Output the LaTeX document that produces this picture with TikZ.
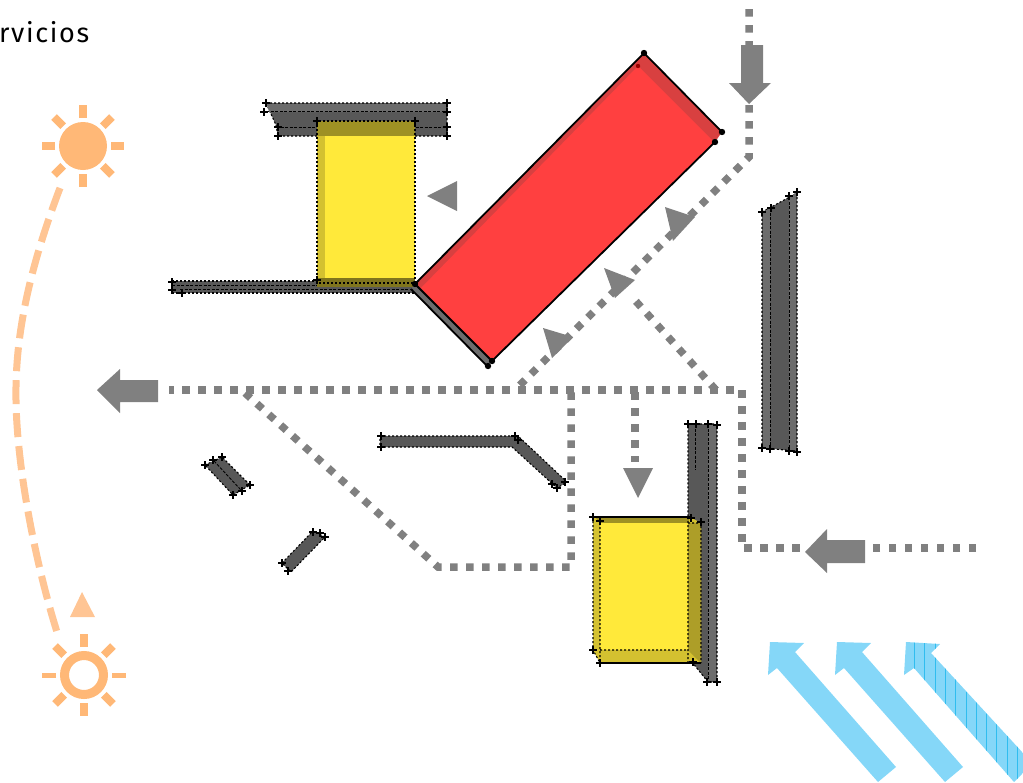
\documentclass[tikz,border=0pt]{standalone}
\usepackage{fontspec}
\setmainfont{Fira Sans}[LetterSpace=6]
\usetikzlibrary{calc}
\definecolor{wallgrey}{HTML}{585858}
\definecolor{wallside}{HTML}{6C6C6C}
\definecolor{flowgrey}{HTML}{808080}
\definecolor{roomyellow}{HTML}{FFE93A}
\definecolor{roomred}{HTML}{FF4040}
\definecolor{redside}{HTML}{D84040}
\definecolor{sunorange}{HTML}{FFB877}
\definecolor{sunpale}{HTML}{FFC594}
\definecolor{windblue}{HTML}{85D7F8}
\definecolor{windline}{HTML}{30BDEF}
\begin{document}
\begin{tikzpicture}[x=1pt,y=-1pt,
 wall/.style={fill=wallgrey,draw=black,line width=1.1pt,dash pattern=on 2pt off 2pt},
 wallline/.style={draw=black,line width=0.9pt,dash pattern=on 3pt off 1.5pt},
 flow/.style={draw=flowgrey,line width=7.5pt,dash pattern=on 7.5pt off 8.5pt},
 flowhead/.style={fill=flowgrey},
 wind/.style={fill=windblue},
 ray/.style={draw=sunorange,line width=8pt},
 tk/.pic={\draw[black,line width=1.7pt] (-3.6,0)--(3.6,0) (0,-3.6)--(0,3.6);}]
\useasboundingbox (0,0) rectangle (1023,782);
\node[font=\fontsize{27}{30}\selectfont,anchor=base west,inner sep=0pt] (title) at (-1,42) {rvicios};
% walls
\draw[wall] (266,103)--(447,103)--(447,136)--(278,136)--(276,125)--cycle;
\fill[wallside] (267,104)--(446,104)--(446,112)--(269,112)--cycle;
\draw[wallline] (266,111)--(447,111) (276,127)--(447,127);
\draw[wall] (172,281)--(415,281)--(415,293)--(172,293)--cycle;
\draw[wallline] (172,285)--(415,285) (180,289)--(415,289);
\draw[wall] (762,212)--(797,193)--(797,451)--(762,448)--cycle;
\fill[wallside] (763,212)--(770,208)--(770,449)--(763,448)--cycle (789,197)--(796,193)--(796,450)--(789,450)--cycle;
\draw[wallline] (770,208)--(770,449) (789,197)--(789,450);
\draw[wall] (688,424)--(717,424)--(717,682)--(708,682)--(692,662)--(688,650)--cycle;
\fill[wallside] (708,425)--(716,425)--(716,681)--(708,681)--cycle;
\draw[wallline] (695,424)--(695,470) (708,424)--(708,682);
\draw[wall] (380,436)--(518,436)--(567,482)--(557,488)--(512,447)--(380,447)--cycle;
\draw[wall] (205,465)--(222,457)--(250,485)--(233,495)--cycle;
\draw[wallline] (214,461)--(241,490);
\draw[wall] (282,563)--(313,531)--(325,537)--(291,572)--cycle;
\foreach \p in {(266,103),(264,112),(447,103),(447,112),(447,127),(447,136),(278,127),(278,136),
 (172,282),(172,290),(182,293),(762,212),(771,208),(789,196),(797,192),(762,448),(770,449),(789,451),(797,452),
 (688,424),(696,424),(708,424),(717,425),(707,682),(717,682),(381,436),(381,447),(515,436),(518,440),(565,482),(557,488),(552,484),
 (205,465),(213,460),(222,457),(250,485),(242,491),(233,495),(282,563),(288,571),(313,532),(320,533),(325,537)}
 \pic at \p {tk};
% yellow rooms
\fill[roomyellow] (317,121) rectangle (415,283);
\fill[black!17!roomyellow] (317,121) rectangle (325,283);
\fill[black!38!roomyellow] (317,121) rectangle (415,136);
\fill[black!50!roomyellow] (317,278) rectangle (415,287);
\draw[wall,fill=none] (317,121) rectangle (415,283);
\pic at (317,121) {tk}; \pic at (415,121) {tk}; \pic at (317,280) {tk};
\fill[black!17!roomyellow] (593,517)--(690,517)--(701,523)--(701,663)--(600,663)--(593,650)--cycle;
\fill[black!38!roomyellow] (595,517)--(690,517)--(688,523)--(600,523)--cycle;
\fill[black!32!roomyellow] (688,523)--(701,523)--(701,663)--(688,650)--cycle;
\fill[roomyellow] (600,523) rectangle (688,650);
\draw[black,line width=1.2pt] (595,517)--(690,517) (600,663)--(701,663);
\draw[wall,fill=none] (593,517)--(593,650)--(600,663) (600,523)--(600,663) (600,650)--(688,650) (688,523)--(701,523)--(701,663) (688,517)--(688,663);
\foreach \p in {(593,517),(600,521),(691,518),(701,522),(593,650),(600,663),(693,662)}
 \pic at \p {tk};
% red room
\fill[redside] (644,53)--(722,132)--(715,142)--(492,361)--(415,284)--cycle;
\fill[roomred] (638,66)--(714,142)--(492,361)--(421,288)--cycle;
\fill[wallside] (415,284)--(492,361)--(487,366)--(411,289)--cycle;
\draw[black,line width=1.8pt] (415,284)--(644,53)--(722,132) (715,142)--(492,361)--(415,284) (411,289)--(487,366);
\foreach \p in {(644,53),(722,132),(715,142),(492,361),(488,366),(415,284)}
 \fill[black] \p circle (3.2);
\fill[red!60!black] (638,66) circle (2.2);
% flows
\coordinate (topend) at (749,9);
\coordinate (topbend) at (749,157);
\coordinate (footdiag) at (515,390);
\coordinate (westend) at (169,390);
\coordinate (eastbend) at (742,390);
\coordinate (southbend) at (742,548);
\coordinate (eastgap) at (800,548);
\coordinate (eastend) at (976,548);
\coordinate (eastarrow) at (872,548);
\coordinate (plazastart) at (245,393);
\coordinate (plazabend) at (438,567);
\coordinate (plazacorner) at (571,567);
\coordinate (plazaup) at (571,392);
\coordinate (branchtop) at (632,297);
\coordinate (branchfoot) at (716,390);
\coordinate (dropstart) at (635,392);
\coordinate (dropend) at (635,462);
\draw[flow] (topend)--(topbend)--(footdiag);
\draw[flow,dash phase=3pt] (westend)--(eastbend)--(southbend)--(eastgap);
\draw[flow] (eastend)--(eastarrow);
\draw[flow] (plazastart)--(plazabend)--(plazacorner)--(plazaup);
\draw[flow] (branchfoot)--(branchtop);
\draw[flow] (dropstart)--(dropend);
\fill[flowhead] (741,45)--(763,45)--(763,83)--(771,83)--(749,104)--(729,83)--(741,83)--cycle;
\fill[flowhead] (97,390)--(120,369)--(120,380)--(158,380)--(158,402)--(120,402)--(120,413)--cycle;
\fill[flowhead] (805,552)--(827,529)--(827,540)--(865,540)--(865,563)--(827,563)--(827,573)--cycle;
\fill[flowhead] (623,468)--(653,468)--(638,498)--cycle;
\fill[flowhead] (427,196)--(457,181)--(457,211)--cycle;
\fill[flowhead] (543,328)--(573,337)--(552,358)--cycle;
\fill[flowhead] (604,268)--(635,280)--(615,298)--cycle;
\fill[flowhead] (665,207)--(695,217)--(673,241)--cycle;
% wind
\fill[wind] (770,642)--(804,643)--(795,652)--(896,767)--(878,782)--(777,668)--(768,675)--cycle;
\fill[wind] (837,642)--(871,643)--(862,652)--(963,767)--(945,782)--(844,668)--(835,675)--cycle;
\begin{scope}
\clip (906,642)--(940,644)--(931,653)--(1023,753)--(1023,773)--(1014,782)--(914,668)--(904,675)--cycle;
\fill[wind] (900,640) rectangle (1023,782);
\foreach \x in {914,924.5,935,945.5,955.5,966,976,986.5,996.5,1007,1017}
 \draw[windline,line width=0.9pt] (\x,640)--(\x,782);
\end{scope}
% sun path
\draw[sunpale,line width=7pt,dash pattern=on 24pt off 9pt] (60,188) .. controls (27,275) and (15,340) .. (16,400) .. controls (17,470) and (36,565) .. (57,632);
\fill[sunpale] (82,592)--(95,617)--(70,617)--cycle;
% suns
\fill[sunorange] (83,146) circle (24);
\foreach \a in {0,45,...,315}
 \draw[ray] ($(83,146)+(\a:28)$)--($(83,146)+(\a:41)$);
\draw[sunorange,line width=9pt] (84,675) circle (19.5);
\foreach \a in {45,135,225,315,90,270}
 \draw[ray] ($(84,675)+(\a:28)$)--($(84,675)+(\a:41)$);
\foreach \a in {0,180}
 \draw[ray,line width=5pt] ($(84,675)+(\a:28)$)--($(84,675)+(\a:42)$);
\end{tikzpicture}
\end{document}
